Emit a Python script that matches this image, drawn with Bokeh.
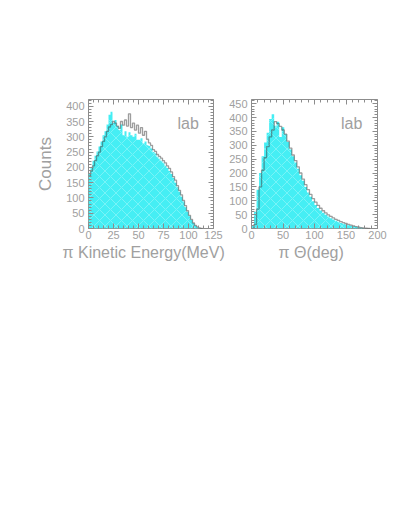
from bokeh.plotting import figure
from bokeh.layouts import row
from bokeh.models import LinearAxis, SingleIntervalTicker, FixedTicker, Range1d, Label, Title
from bokeh.embed import file_html
from bokeh.resources import INLINE

# ---- data: pi kinetic energy (MeV), 2 MeV bins ----
ke_bin_width = 2
ke_data = [180, 200, 222, 238, 252, 268, 285, 305, 318, 340,
           372, 382, 345, 355, 335, 322, 340, 305, 318, 300,
           315, 305, 300, 310, 290, 290, 295, 278, 285, 272,
           270, 262, 250, 245, 235, 228, 222, 215, 205, 198,
           188, 178, 165, 150, 135, 120, 104, 88, 70, 55,
           40, 28, 17, 9, 4, 1, 0]
ke_sim = [172, 188, 205, 222, 238, 250, 268, 285, 300, 318,
          332, 340, 350, 345, 335, 328, 350, 338, 355, 335,
          375, 330, 345, 322, 338, 312, 330, 305, 318, 292,
          280, 272, 258, 252, 242, 236, 230, 222, 215, 205,
          197, 185, 170, 158, 140, 125, 110, 92, 75, 58,
          43, 30, 18, 10, 5, 2, 0]

# ---- data: pi theta (deg), 4 deg bins ----
th_bin_width = 4
th_data = [10, 60, 140, 200, 260, 310, 345, 395, 412, 370,
           385, 330, 365, 340, 312, 285, 260, 238, 215, 192,
           172, 150, 130, 114, 98, 85, 74, 65, 57, 50,
           43, 37, 32, 28, 24, 20, 17, 14, 12, 10,
           8, 6, 4, 3, 1, 0, 0]
th_sim = [0, 15, 70, 150, 210, 255, 295, 330, 355, 385,
          378, 368, 355, 340, 315, 290, 265, 245, 222, 200,
          178, 158, 140, 123, 108, 95, 83, 73, 64, 56,
          49, 44, 38, 33, 29, 25, 21, 18, 15, 12,
          9, 7, 5, 3, 2, 1, 0]

# tick layout (major interval, minor step) per axis
ke_x_major, ke_x_minor = 25, 5
th_x_major, th_x_minor = 50, 10
y_major, y_minor = 50, 10

TXT = "#a0a0a0"
AX = "#8c8c8c"
FONT = "Liberation Sans"
CYAN = "#45eef4"


def tick_lists(lo, hi, major, minor):
    majors = list(range(lo, hi + 1, major))
    minors = [v for v in range(lo, hi + 1, minor) if v % major != 0]
    return majors, minors


def make_panel(data, sim, bw, xmax, ymax, xmaj, xmin, xlabel, ylabel,
               fw, border_left, border_right, lab_x, lab_y, title_offset):
    p = figure(output_backend="svg", toolbar_location=None,
               frame_width=fw, frame_height=129,
               x_range=Range1d(0, xmax), y_range=Range1d(0, ymax),
               min_border_left=border_left, min_border_right=border_right,
               min_border_top=99, min_border_bottom=50,
               x_axis_type=None, y_axis_type=None)
    p.background_fill_color = "white"
    p.border_fill_color = "white"
    p.outline_line_color = AX
    p.outline_line_width = 1
    p.xgrid.visible = False
    p.ygrid.visible = False

    edges = [i * bw for i in range(len(data) + 1)]
    y_fill = data + [data[-1]]
    p.varea_step(x=edges, y1=[0] * len(edges), y2=y_fill, step_mode="after",
                 fill_color=CYAN, fill_alpha=1.0,
                 hatch_pattern="diagonal_cross", hatch_color="white",
                 hatch_alpha=0.35, hatch_scale=11, hatch_weight=0.8)
    y_line = sim + [0]
    p.step(x=edges, y=y_line, mode="after", line_color="#3c3c3c",
           line_alpha=0.5, line_width=1.3)

    def style(ax):
        ax.axis_line_color = None
        ax.major_tick_line_color = AX
        ax.minor_tick_line_color = AX
        ax.major_tick_in = 5
        ax.major_tick_out = 0
        ax.minor_tick_in = 3
        ax.minor_tick_out = 0
        ax.major_label_text_color = TXT
        ax.major_label_text_font = FONT
        ax.major_label_text_font_size = "11px"
        ax.axis_label_text_color = TXT
        ax.axis_label_text_font = FONT
        ax.axis_label_text_font_style = "normal"
        ax.axis_label_text_font_size = "17px"

    xb = LinearAxis(ticker=SingleIntervalTicker(interval=xmaj,
                                                num_minor_ticks=xmaj // xmin))
    style(xb)
    xb.major_label_standoff = 2
    p.add_layout(xb, "below")

    yl = LinearAxis(ticker=SingleIntervalTicker(interval=y_major,
                                                num_minor_ticks=y_major // y_minor),
                    axis_label=ylabel if ylabel else None)
    style(yl)
    yl.major_label_standoff = 4
    yl.axis_label_standoff = 8
    p.add_layout(yl, "left")

    # mirrored ticks on top and right (no labels)
    xM, xm = tick_lists(0, xmax, xmaj, xmin)
    yM, ym = tick_lists(0, ymax, y_major, y_minor)
    for side, M, m in (("above", xM, xm), ("right", yM, ym)):
        for ticks, length in ((M, 5), (m, 3)):
            ax = LinearAxis(ticker=FixedTicker(ticks=[], minor_ticks=ticks))
            style(ax)
            ax.minor_tick_in = length
            ax.major_label_standoff = 0
            p.add_layout(ax, side)

    p.add_layout(Label(x=lab_x, y=lab_y, text="lab", text_color=TXT,
                       text_font=FONT, text_font_size="16px",
                       text_baseline="alphabetic"))
    p.add_layout(Title(text=xlabel, align="left", offset=title_offset,
                       text_color=TXT, text_font=FONT, text_font_size="16px",
                       text_font_style="normal", standoff=0), "below")
    return p


p1 = make_panel(ke_data, ke_sim, ke_bin_width, 125, 422, ke_x_major, ke_x_minor,
                "π Kinetic Energy(MeV)", "Counts", 125, 88, 13, 89, 345, -26)
p2 = make_panel(th_data, th_sim, th_bin_width, 200, 465, th_x_major, th_x_minor,
                "π Θ(deg)", "", 126, 24, 20, 142, 379, 27)

p = row(p1, p2)
open("out.html", "w").write(file_html(p, INLINE))
